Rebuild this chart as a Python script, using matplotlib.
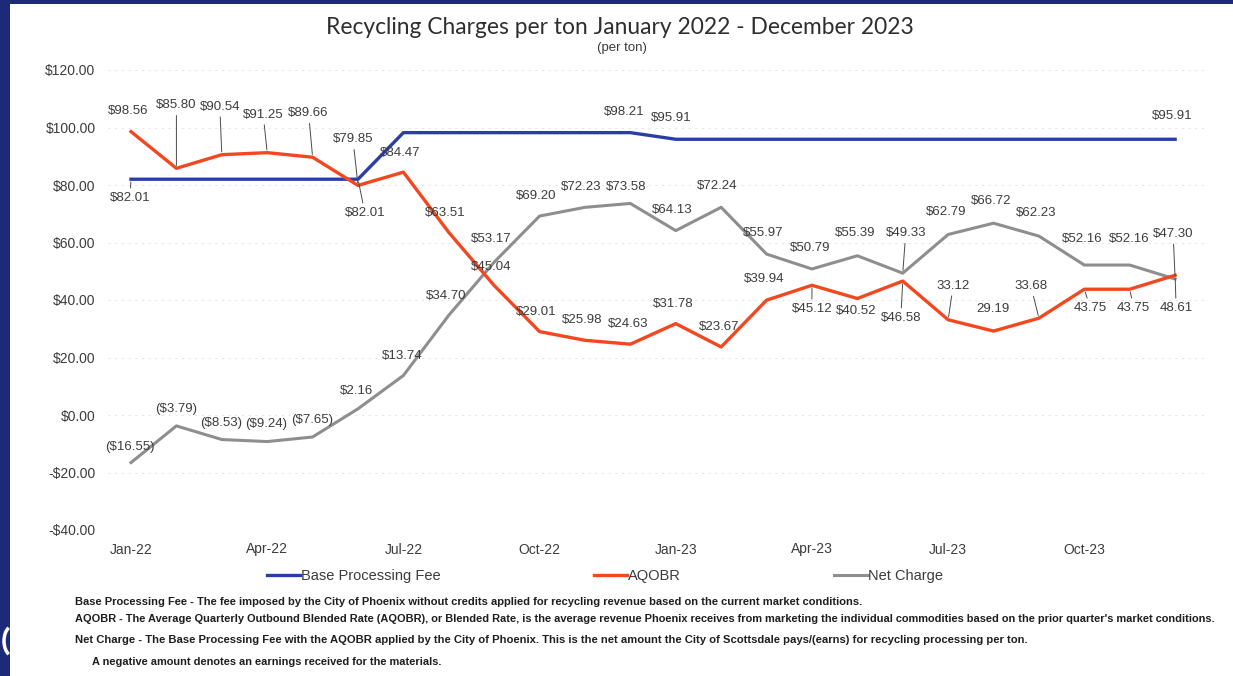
import numpy as np
import matplotlib
matplotlib.use('Agg')
import matplotlib.pyplot as plt
from matplotlib.patches import Rectangle, Arc

# chart values
months = ['Jan-22', 'Feb-22', 'Mar-22', 'Apr-22', 'May-22', 'Jun-22',
          'Jul-22', 'Aug-22', 'Sep-22', 'Oct-22', 'Nov-22', 'Dec-22',
          'Jan-23', 'Feb-23', 'Mar-23', 'Apr-23', 'May-23', 'Jun-23',
          'Jul-23', 'Aug-23', 'Sep-23', 'Oct-23', 'Nov-23', 'Dec-23']
base_fee = [82.01, 82.01, 82.01, 82.01, 82.01, 82.01,
            98.21, 98.21, 98.21, 98.21, 98.21, 98.21,
            95.91, 95.91, 95.91, 95.91, 95.91, 95.91,
            95.91, 95.91, 95.91, 95.91, 95.91, 95.91]
aqobr = [98.56, 85.80, 90.54, 91.25, 89.66, 79.85,
         84.47, 63.51, 45.04, 29.01, 25.98, 24.63,
         31.78, 23.67, 39.94, 45.12, 40.52, 46.58,
         33.12, 29.19, 33.68, 43.75, 43.75, 48.61]
net_charge = [-16.55, -3.79, -8.53, -9.24, -7.65, 2.16,
              13.74, 34.70, 53.17, 69.20, 72.23, 73.58,
              64.13, 72.24, 55.97, 50.79, 55.39, 49.33,
              62.79, 66.72, 62.23, 52.16, 52.16, 47.30]
base_labeled = [0, 5, 11, 12, 23]          # months that carry a label on the blue line
aqobr_no_dollar_from = 18                  # from Jul-23 the labels lose the "$"

# label offsets in pixels (dx, dy up) and leader flags
aqobr_off = [(-3, 21), (0, 63), (-2, 48), (-4, 38), (-4, 44), (-5, 46),
             (-3, 19), (-4, 19), (-3, 19), (-3, 20), (-3, 20), (-2, 20),
             (-3, 20), (-2, 20), (-2, 21), (0, -24), (-1, -12), (-2, -37),
             (5, 34), (-1, 22), (-8, 32), (6, -19), (4, -19), (1, -33)]
aqobr_lead = [0, 1, 1, 1, 1, 1, 0, 0, 0, 0, 0, 0,
              0, 0, 0, 1, 0, 1, 1, 0, 1, 1, 1, 1]
net_off = [(-1, 16), (0, 17), (-1, 17), (-1, 18), (0, 17), (-1, 18),
           (-1, 19), (-3, 19), (-3, 23), (-3, 20), (-4, 20), (-4, 16),
           (-4, 21), (-4, 21), (-3, 21), (-2, 21), (-2, 23), (3, 40),
           (-2, 22), (-2, 22), (-3, 23), (-2, 26), (-1, 26), (-2, 45)]
net_lead = [0] * 17 + [1] + [0] * 5 + [1]
base_off = {0: (-1, -19), 5: (7, -34), 11: (-6, 21), 12: (-5, 21), 23: (-3, 23)}
base_lead = {0: 1, 5: 1, 11: 0, 12: 0, 23: 0}

BLUE = '#2b3ea3'
RED = '#f2471f'
GRAY = '#8e8e8e'
TXT = '#3c3c3c'
NAVY = '#1c2a78'

plt.rcParams['font.family'] = ['Liberation Sans', 'DejaVu Sans']

fig = plt.figure(figsize=(12.33, 6.76), dpi=100)
fig.patch.set_facecolor('white')

# slide frame: navy strip on the left and top, with a bit of the slide behind it
fig.add_artist(Rectangle((0, 0), 10 / 1233, 1, transform=fig.transFigure,
                         facecolor=NAVY, edgecolor='none'))
fig.add_artist(Rectangle((0, 1 - 4 / 676), 1, 4 / 676, transform=fig.transFigure,
                         facecolor=NAVY, edgecolor='none'))
fig.add_artist(Arc((13 / 1233, 1 - 641 / 676), 18 / 1233, 30 / 676, theta1=100, theta2=260,
                   transform=fig.transFigure, color='white', lw=2.5))

ax = fig.add_axes([108 / 1233, 1 - 530 / 676, 1098 / 1233, 460 / 676])
x = np.arange(len(months))

ax.plot(x, base_fee, color=BLUE, lw=2.4, label='Base Processing Fee', zorder=3)
ax.plot(x, aqobr, color=RED, lw=2.4, label='AQOBR', zorder=4)
ax.plot(x, net_charge, color=GRAY, lw=2.2, label='Net Charge', zorder=3)

ax.set_xlim(-0.507, 23.68)
ax.set_ylim(-40, 120)
yt = np.arange(-40, 121, 20)
ax.set_yticks(yt)
ax.set_yticklabels([('-$%.2f' % -v) if v < 0 else ('$%.2f' % v) for v in yt])
ax.set_xticks(x[::3])
ax.set_xticklabels(months[::3])
ax.tick_params(length=0, labelsize=10, labelcolor=TXT)
ax.tick_params(axis='y', pad=9)
ax.tick_params(axis='x', pad=9)
for s in ax.spines.values():
    s.set_visible(False)
ax.grid(axis='y', color='#e6e6e6', lw=0.8, linestyle=(0, (2, 4)))
ax.set_axisbelow(True)

lead_style = dict(arrowstyle='-', color='#4a4a4a', lw=0.7, shrinkA=1, shrinkB=2)


def money(v, dollar=True):
    s = ('$%.2f' % abs(v)) if dollar else ('%.2f' % abs(v))
    return '(' + s + ')' if v < 0 else s


def put(i, v, text, off, lead):
    ax.annotate(text, (x[i], v), xytext=off, textcoords='offset pixels',
                ha='center', va='center', fontsize=9.5, color=TXT, zorder=6,
                arrowprops=lead_style if lead else None)


for i, v in enumerate(aqobr):
    put(i, v, money(v, i < aqobr_no_dollar_from), aqobr_off[i], aqobr_lead[i])
for i, v in enumerate(net_charge):
    put(i, v, money(v), net_off[i], net_lead[i])
for i in base_labeled:
    put(i, base_fee[i], money(base_fee[i]), base_off[i], base_lead[i])

fig.text(620 / 1233, 1 - 28 / 676, 'Recycling Charges per ton January 2022 - December 2023',
         ha='center', va='center', fontsize=16.4, color='#2e2e2e', family=['Lato', 'DejaVu Sans'])
fig.text(622 / 1233, 1 - 48 / 676, '(per ton)', ha='center', va='center', fontsize=9.5, color=TXT)

leg = ax.legend(loc='center', bbox_to_anchor=(605 / 1233, 1 - 576 / 676),
                bbox_transform=fig.transFigure, ncol=3, frameon=False,
                handlelength=2.3, handletextpad=0.05, columnspacing=10.5,
                fontsize=10.5, labelcolor=TXT)

notes = [
    "Base Processing Fee - The fee imposed by the City of Phoenix without credits applied for recycling revenue based on the current market conditions.",
    "AQOBR - The Average Quarterly Outbound Blended Rate (AQOBR), or Blended Rate, is the average revenue Phoenix receives from marketing the individual commodities based on the prior quarter's market conditions.",
    "Net Charge - The Base Processing Fee with the AQOBR applied by the City of Phoenix. This is the net amount the City of Scottsdale pays/(earns) for recycling processing per ton.",
    "A negative amount denotes an earnings received for the materials.",
]
note_x = [75, 75, 75, 92]
note_y = [602, 619, 640, 662]
note_w = [787, 1143, 959, 349]
renderer = fig.canvas.get_renderer()
for t, nx, ny, nw in zip(notes, note_x, note_y, note_w):
    tx = fig.text(nx / 1233, 1 - ny / 676, t, ha='left', va='center', fontsize=8,
                  fontweight='bold', color='#1e1e1e',
                  family=['Liberation Sans Narrow', 'Liberation Sans', 'DejaVu Sans'])
    w = tx.get_window_extent(renderer).width
    tx.set_fontsize(8 * nw / w)

fig.savefig('out.png', dpi=100)
